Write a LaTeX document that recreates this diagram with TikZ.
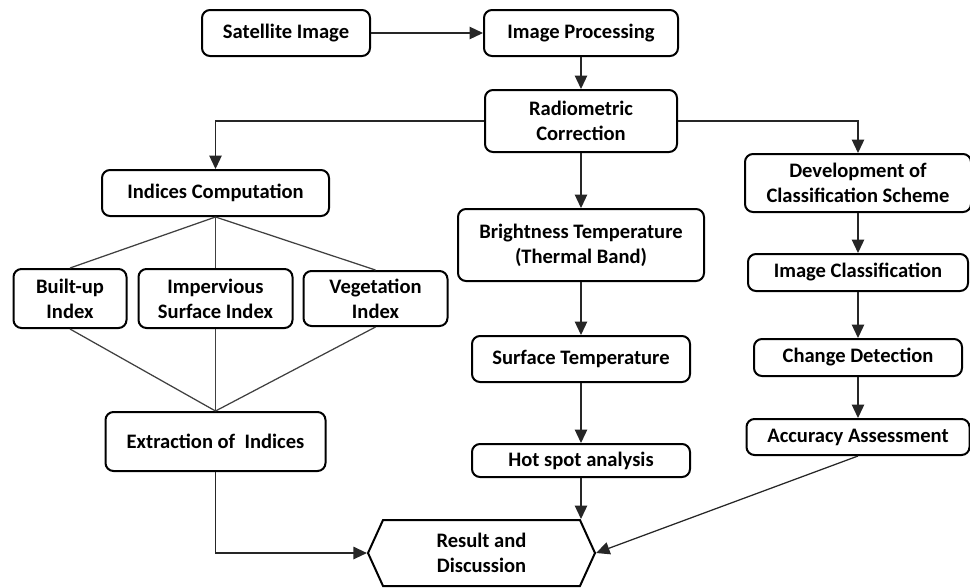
\documentclass[tikz,border=0pt]{standalone}
\usepackage{fontspec}
\setmainfont{Carlito}
\usepackage{tikz}
\usetikzlibrary{shapes.geometric, shapes.symbols, arrows.meta, positioning}

\begin{document}
\begin{tikzpicture}[
    % Stil für die Prozess-Boxen
    stepbox/.style={
      rectangle,
      rounded corners=0.16cm,
      draw=black,
      line width=0.04cm,
      inner sep=1pt,
      align=center,
      font=\fontsize{11.7pt}{14.2pt}\selectfont\bfseries
    },
    % Stil für die Ergebnis-Box
    resultbox/.style={
      signal,
      signal to=east and west,
      signal pointer angle=131,
      draw=black,
      line width=0.04cm,
      inner sep=1pt,
      minimum width=4.54cm,
      minimum height=1.32cm,
      align=center,
      font=\fontsize{11.7pt}{14.2pt}\selectfont\bfseries
    },
    % Pfeile und einfache Linien
    arrow/.style={-{Triangle[length=0.27cm, width=0.25cm]}, line width=0.025cm, draw=black!85},
    link/.style={line width=0.025cm, draw=black!75}
  ]

  \useasboundingbox (0,0) rectangle (19.4,-11.74);

  % --- oberste Reihe ---
  \node[stepbox, minimum width=3.36cm, minimum height=0.92cm] (sat) at (5.72,-0.66) {Satellite Image};
  \node[stepbox, right=2.24cm of sat, minimum width=3.88cm, minimum height=0.92cm] (proc) {Image Processing};

  % --- mittlere Spalte ---
  \node[stepbox, below=0.64cm of proc, minimum width=3.84cm, minimum height=1.24cm] (radio) {Radiometric\\Correction};
  \node[stepbox, below=1.1cm of radio, minimum width=4.92cm, minimum height=1.44cm] (bright) {Brightness Temperature\\(Thermal Band)};
  \node[stepbox, below=1.06cm of bright, minimum width=4.36cm, minimum height=0.92cm] (surf) {Surface Temperature};
  \node[stepbox, below=1.2cm of surf, minimum width=4.36cm, minimum height=0.66cm] (hot) {Hot spot analysis};

  % --- linke Spalte ---
  \node[stepbox, minimum width=4.54cm, minimum height=0.92cm] (indices) at (4.31,-3.86) {Indices Computation};
  \node[stepbox, below=1.02cm of indices, minimum width=3.08cm, minimum height=1.18cm] (imperv) {Impervious\\Surface Index};
  \node[stepbox, left=0.2cm of imperv, minimum width=2.26cm, minimum height=1.18cm] (built) {Built-up\\Index};
  \node[stepbox, right=0.18cm of imperv, minimum width=2.88cm, minimum height=1.1cm] (veg) {Vegetation\\Index};
  \node[stepbox, below=1.64cm of imperv, minimum width=4.4cm, minimum height=1.18cm] (extr) {Extraction of~ Indices};

  % --- rechte Spalte ---
  \node[stepbox, anchor=north west, minimum width=4.52cm, minimum height=1.16cm] (dev) at ([xshift=1.32cm]radio.south east) {Development of\\Classification Scheme};
  \node[stepbox, below=0.8cm of dev, minimum width=4.4cm, minimum height=0.74cm] (cls) {Image Classification};
  \node[stepbox, below=0.92cm of cls, minimum width=4.16cm, minimum height=0.74cm] (chg) {Change Detection};
  \node[stepbox, below=0.82cm of chg, minimum width=4.46cm, minimum height=0.72cm] (acc) {Accuracy Assessment};

  % --- Ergebnis ---
  \node[resultbox] (result) at (9.63,-11.06) {Result and\\Discussion};

  % --- Pfeile ---
  \draw[arrow] (sat) -- (proc);
  \draw[arrow] (proc) -- (radio);
  \draw[arrow] (radio.west) -| (indices.north);
  \draw[arrow] (radio.east) -| (dev.north);
  \draw[arrow] (radio) -- (bright);
  \draw[arrow] (bright) -- (surf);
  \draw[arrow] (surf) -- (hot);
  \draw[arrow] (hot.south) -- (hot.south |- result.north);
  \draw[arrow] (dev) -- (cls);
  \draw[arrow] (cls) -- (chg);
  \draw[arrow] (chg) -- (acc);
  \draw[arrow] (acc.south) -- (result.east);
  \draw[arrow] (extr.south) |- (result.west);

  % Verbindungslinien der Indizes
  \foreach \idx in {built, imperv, veg} {
    \draw[link] (indices.south) -- (\idx.north);
    \draw[link] (\idx.south) -- (extr.north);
  }

\end{tikzpicture}
\end{document}
